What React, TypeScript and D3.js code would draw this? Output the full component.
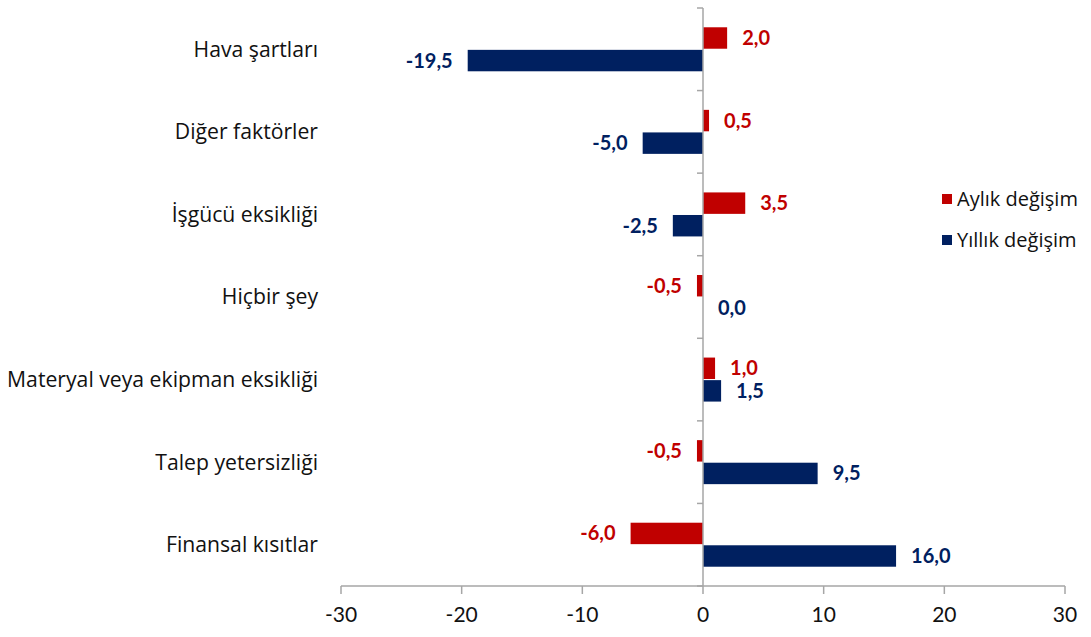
import * as d3 from 'd3'

const categories = [
  'Hava şartları',
  'Diğer faktörler',
  'İşgücü eksikliği',
  'Hiçbir şey',
  'Materyal veya ekipman eksikliği',
  'Talep yetersizliği',
  'Finansal kısıtlar',
]
const monthly = [2.0, 0.5, 3.5, -0.5, 1.0, -0.5, -6.0]
const yearly = [-19.5, -5.0, -2.5, 0.0, 1.5, 9.5, 16.0]
const seriesNames = ['Aylık değişim', 'Yıllık değişim']
const seriesColors = ['#C00000', '#002060']
const xTicks = [-30, -20, -10, 0, 10, 20, 30]

const W = 1091
const H = 637
const plot = { left: 341, right: 1065, top: 8, bottom: 586 }
const FONT = 'Lato, "Open Sans", sans-serif'
const TEXT_FONT = '"Open Sans", Lato, sans-serif'

export default function App() {
  const x = d3.scaleLinear().domain([-30, 30]).range([plot.left, plot.right])
  const y = d3.scaleBand<string>().domain(categories).range([plot.top, plot.bottom]).paddingInner(0.467).paddingOuter(0.2335)
  const inner = d3.scaleBand<string>().domain(seriesNames).range([0, y.bandwidth()]).paddingInner(0.05)
  const step = y.step()
  const fmt = (v: number) => d3.format('.1f')(v).replace('.', ',').replace('−', '-')
  const values = [monthly, yearly]

  return (
    <svg width={W} height={H} style={{ position: 'absolute', left: 0, top: 0, background: '#fff' }} fontFamily={FONT}>
      {/* category labels */}
      {categories.map((c) => (
        <text key={c} x={318} y={(y(c) ?? 0) + y.bandwidth() / 2} dy="0.35em" textAnchor="end" fontSize={21.2} fontFamily={TEXT_FONT} fill="#111">
          {c}
        </text>
      ))}

      {/* bars */}
      {values.map((vals, si) =>
        categories.map((c, i) => {
          const v = vals[i]
          const by = (y(c) ?? 0) + (inner(seriesNames[si]) ?? 0)
          const x0 = x(Math.min(0, v))
          const w = Math.abs(x(v) - x(0))
          const end = x(v)
          const pos = v >= 0
          return (
            <g key={`${si}-${i}`}>
              <rect x={x0} y={by} width={w} height={inner.bandwidth()} fill={seriesColors[si]} />
              <text
                x={pos ? end + 15 : end - 15}
                y={by + inner.bandwidth() / 2}
                dy="0.35em"
                textAnchor={pos ? 'start' : 'end'}
                fontSize={20}
                fontWeight="bold"
                fill={seriesColors[si]}
              >
                {fmt(v)}
              </text>
            </g>
          )
        })
      )}

      {/* vertical axis at zero */}
      <line x1={x(0)} x2={x(0)} y1={plot.top} y2={plot.bottom} stroke="#A6A6A6" strokeWidth={1.5} />
      {d3.range(categories.length + 1).map((k) => (
        <line key={k} x1={x(0) - 6} x2={x(0)} y1={plot.top + k * step} y2={plot.top + k * step} stroke="#A6A6A6" strokeWidth={1.5} />
      ))}

      {/* bottom axis */}
      <line x1={plot.left} x2={plot.right} y1={plot.bottom} y2={plot.bottom} stroke="#A6A6A6" strokeWidth={1.5} />
      {xTicks.map((t) => (
        <g key={t}>
          <line x1={x(t)} x2={x(t)} y1={plot.bottom} y2={plot.bottom + 8} stroke="#A6A6A6" strokeWidth={1.5} />
          <text x={x(t)} y={622} textAnchor="middle" fontSize={21} fill="#111">
            {t}
          </text>
        </g>
      ))}

      {/* legend */}
      {seriesNames.map((s, i) => (
        <g key={s} transform={`translate(942, ${194 + i * 41})`}>
          <rect x={0} y={0} width={10} height={10} fill={seriesColors[i]} />
          <text x={15} y={5} dy="0.35em" fontSize={20} fontFamily={TEXT_FONT} fill="#111">
            {s}
          </text>
        </g>
      ))}
    </svg>
  )
}
